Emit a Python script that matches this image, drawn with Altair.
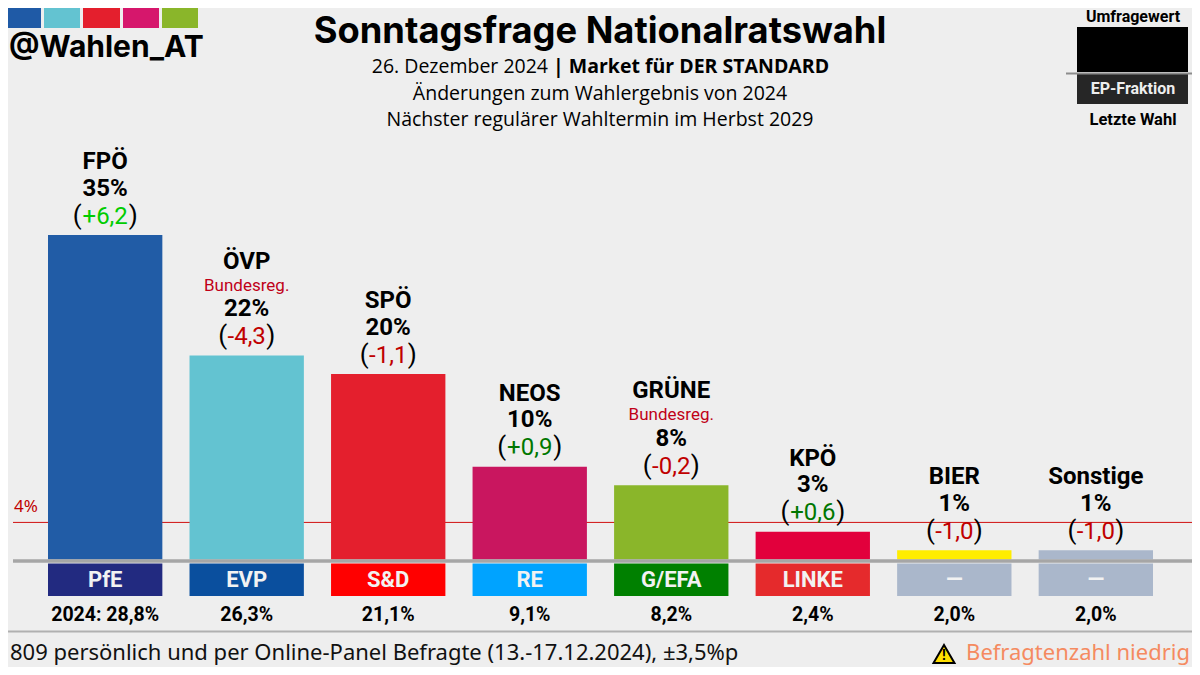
import altair as alt
import pandas as pd

parties = ["FPÖ", "ÖVP", "SPÖ", "NEOS", "GRÜNE", "KPÖ", "BIER", "Sonstige"]
values = [35, 22, 20, 10, 8, 3, 1, 1]
changes = [6.2, -4.3, -1.1, 0.9, -0.2, 0.6, -1.0, -1.0]
change_colors = ["#00cc00", "#c00000", "#c00000", "#007700", "#c00000", "#007700", "#c00000", "#c00000"]
bar_colors = ["#215ca6", "#63c3d1", "#e41f2d", "#c9165f", "#8ab62a", "#e2003c", "#ffed00", "#aab7cb"]
government = [False, True, False, False, True, False, False, False]
groups = ["PfE", "EVP", "S&D", "RE", "G/EFA", "LINKE", "—", "—"]
group_colors = ["#222a80", "#0a4f9e", "#ff0000", "#00a3ff", "#008000", "#e52a2c", "#aab7cb", "#aab7cb"]
last_labels = ["2024: 28,8%", "26,3%", "21,1%", "9,1%", "8,2%", "2,4%", "2,0%", "2,0%"]
logo_colors = ["#1f5aa6", "#63c3d1", "#e41f2d", "#d6176c", "#8ab62a"]
threshold_value = [4]

df = pd.DataFrame({
    "party": parties, "value": values, "change": changes, "cc": change_colors,
    "bc": bar_colors, "gov": government, "group": groups, "gc": group_colors, "last": last_labels,
})
df["pct"] = df["value"].astype(str) + "%"
df["chg"] = df["change"].map(lambda v: f"{v:+.1f}".replace(".", ","))
df["reg"] = df["gov"].map(lambda g: "Bundesreg." if g else "")

OX, OY = 8, 8
W, H = 1184, 659
Y0, K = 559.5, 9.27
y_scale = alt.Scale(domain=[(Y0 - (OY + H)) / K, (Y0 - OY) / K], range=[H, 0], nice=False, zero=False)
x_scale = alt.Scale(domain=parties, range=[48 - OX, 1153 - OX], paddingInner=0.192, paddingOuter=0)
X = alt.X("party:N", scale=x_scale, axis=None, sort=parties)
XC = alt.X("party:N", scale=x_scale, axis=None, sort=parties, bandPosition=0.5)
Y = alt.Y("value:Q", scale=y_scale, axis=None)
base = alt.Chart(df)
blank = alt.Chart(alt.Data(values=[{}]))
threshold_df = pd.DataFrame({"value": threshold_value})


def px(v):
    return alt.value(v - OX)


def py(v):
    return alt.value(v - OY)


def label(s, x, y, size, color="#000000", weight="normal", font="Roboto", align="center"):
    return blank.mark_text(text=s, font=font, fontSize=size, fontWeight=weight, color=color,
                           align=align, baseline="middle").encode(x=px(x), y=py(y))


def box(x1, x2, y1, y2, color):
    return blank.mark_rect(color=color).encode(x=px(x1), x2=px(x2), y=py(y1), y2=py(y2))


def line(x1, x2, y, color, w):
    return blank.mark_rule(color=color, strokeWidth=w).encode(x=px(x1), x2=px(x2), y=py(y))


threshold = alt.Chart(threshold_df).mark_rule(stroke="#d01010", strokeWidth=1).encode(
    x=px(13), x2=px(1192), y=Y, color=alt.value("#d01010"))
bars = base.mark_bar().encode(x=X, y=Y, color=alt.Color("bc:N", scale=None))
chips = base.mark_rect().encode(x=X, y=py(563.5), y2=py(596), color=alt.Color("gc:N", scale=None))
chip_text = base.mark_text(font="Roboto", fontWeight="bold", fontSize=22, color="#f2f2f2", baseline="middle").encode(
    x=XC, y=py(580), text="group:N")
last_text = base.mark_text(font="Roboto", fontWeight="bold", fontSize=19.5, color="#000000", baseline="middle").encode(
    x=XC, y=py(615), text="last:N")

gov_base = base.transform_filter("datum.gov")
plain_base = base.transform_filter("!datum.gov")
pos_base = base.transform_filter("datum.change > 0")
neg_base = base.transform_filter("datum.change <= 0")


def tx(data, dy, size, weight="bold", font="Roboto", field=None, text=None, color=None, cfield=None, dx=0, align="center"):
    kw = dict(font=font, fontWeight=weight, fontSize=size, dy=dy, dx=dx, align=align, baseline="middle")
    if color:
        kw["color"] = color
    if text is not None:
        kw["text"] = text
    enc = dict(x=XC, y=Y)
    if field:
        enc["text"] = f"{field}:N"
    if cfield:
        enc["color"] = alt.Color(f"{cfield}:N", scale=None)
    return data.mark_text(**kw).encode(**enc)


layers = [
    threshold,
    label("4%", 26, 507, 17, "#c00000", font="Noto Sans"),
    bars, chips, chip_text, last_text,
    tx(plain_base, -73, 24, field="party"),
    tx(gov_base, -94, 24, field="party"),
    tx(gov_base, -70, 17, weight="normal", field="reg", color="#c00018"),
    tx(base, -46.5, 24, field="pct"),
    tx(base, -18.5, 24, weight="normal", field="chg", cfield="cc"),
    tx(pos_base, -19.5, 26, weight="normal", text="(", color="#000000", dx=-23.5, align="right"),
    tx(pos_base, -19.5, 26, weight="normal", text=")", color="#000000", dx=23.5, align="left"),
    tx(neg_base, -19.5, 26, weight="normal", text="(", color="#000000", dx=-19.5, align="right"),
    tx(neg_base, -19.5, 26, weight="normal", text=")", color="#000000", dx=19.5, align="left"),
    line(13, 1192, 561, "#a6a6a6", 3.5),
    line(0, 1200, 631.5, "#b0b0b0", 2),
    label("Sonntagsfrage Nationalratswahl", 600, 31.5, 36.3, weight="bold", font="Inter"),
    label("26. Dezember 2024", 548, 67, 19.5, font="Open Sans", align="right"),
    label("| Market für DER STANDARD", 553, 67, 19.5, weight="bold", font="Open Sans", align="left"),
    label("Änderungen zum Wahlergebnis von 2024", 600, 94, 19.5, font="Open Sans"),
    label("Nächster regulärer Wahltermin im Herbst 2029", 600, 120, 19.5, font="Open Sans"),
    label("@Wahlen_AT", 9, 47.5, 30, weight="bold", font="Inter", align="left"),
    box(8, 41, 8, 28, logo_colors[0]),
    box(44, 80, 8, 28, logo_colors[1]),
    box(83, 120, 8, 28, logo_colors[2]),
    box(123, 159, 8, 28, logo_colors[3]),
    box(162, 198, 8, 28, logo_colors[4]),
    label("Umfragewert", 1133, 16.5, 16, weight="bold"),
    box(1077, 1188, 27, 72, "#000000"),
    box(1077, 1188, 74, 104, "#262626"),
    line(1066, 1200, 73.5, "#8c8c8c", 2),
    label("EP-Fraktion", 1133, 89, 16, "#eeeeee", weight="bold"),
    label("Letzte Wahl", 1133, 120, 16.5, weight="bold"),
    label("809 persönlich und per Online-Panel Befragte (13.-17.12.2024), ±3,5%p", 10, 653, 22, "#111111", font="Noto Sans", align="left"),
    label("Befragtenzahl niedrig", 1190, 653, 22, "#f58a60", font="Noto Sans", align="right"),
    blank.mark_point(shape="triangle-up", filled=True, fill="#ffdf00", stroke="#000000", strokeWidth=2, size=440, opacity=1).encode(x=px(944), y=py(654)),
    label("!", 944, 656, 14, weight="bold", color="#000000"),
]

chart = alt.layer(*layers).properties(
    width=W, height=H, background="#eeeeee", padding=0,
    autosize=alt.AutoSizeParams(type="none"),
).configure_view(stroke=None)

chart.save("out.html", embed_options={"renderer": "svg", "actions": False})
